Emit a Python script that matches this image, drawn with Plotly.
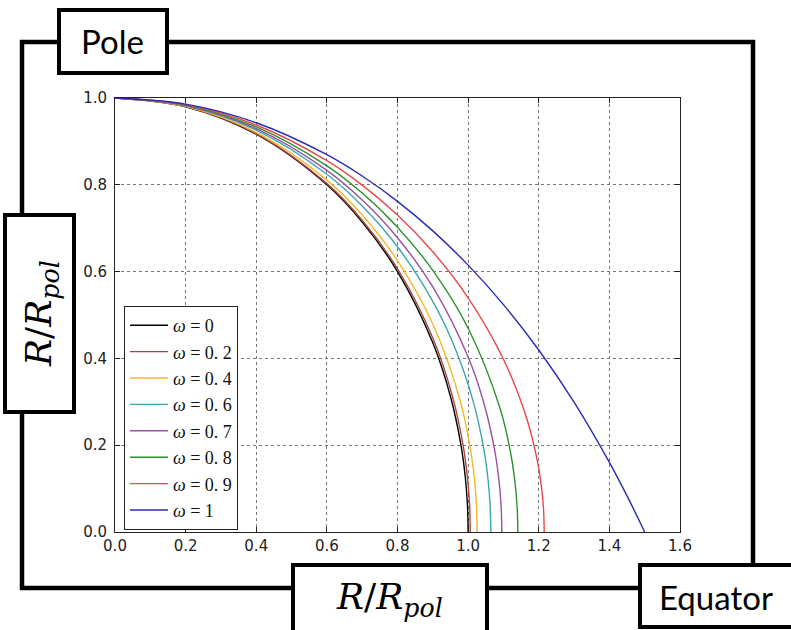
import plotly.graph_objects as go

# ---------------- data ----------------
labels = ["ω = 0", "ω = 0. 2", "ω = 0. 4", "ω = 0. 6",
          "ω = 0. 7", "ω = 0. 8", "ω = 0. 9", "ω = 1"]

x_w00 = [0.0, 0.2, 0.4, 0.6, 0.7, 0.8, 0.9, 0.95, 0.98, 0.992, 0.998, 1.0]
y_w00 = [1.0, 0.9798, 0.9165, 0.8, 0.7141, 0.6, 0.4359, 0.3122, 0.1990, 0.1262, 0.0632, 0.0]

x_w02 = [0.0, 0.2, 0.4, 0.6, 0.7, 0.8, 0.9, 0.956, 0.986, 0.998, 1.004, 1.006]
y_w02 = [1.0, 0.9800, 0.9176, 0.8027, 0.7182, 0.6063, 0.4468, 0.3114, 0.1986, 0.1261, 0.0636, 0.0]

x_w04 = [0.0, 0.2, 0.4, 0.6, 0.7, 0.8, 0.9, 0.9756, 1.0056, 1.0176, 1.0236, 1.0256]
y_w04 = [1.0, 0.9808, 0.9207, 0.8107, 0.7305, 0.6253, 0.4791, 0.3081, 0.1962, 0.1243, 0.0619, 0.0]

x_w06 = [0.0, 0.2, 0.4, 0.6, 0.7, 0.8, 0.9, 0.96, 1.0143, 1.0443, 1.0563, 1.0623, 1.0643]
y_w06 = [1.0, 0.9820, 0.9259, 0.8243, 0.7513, 0.6572, 0.5314, 0.4295, 0.3011, 0.1917, 0.1216, 0.0608, 0.0]

x_w07 = [0.0, 0.2, 0.4, 0.6, 0.7, 0.8, 0.9, 1.0, 1.0455, 1.0755, 1.0875, 1.0935, 1.0955]
y_w07 = [1.0, 0.9828, 0.9293, 0.8333, 0.7649, 0.6781, 0.5647, 0.4033, 0.2945, 0.1872, 0.1183, 0.0584, 0.0]

x_w08 = [0.0, 0.2, 0.4, 0.6, 0.7, 0.8, 0.9, 1.0, 1.0908, 1.1208, 1.1328, 1.1388, 1.1408]
y_w08 = [1.0, 0.9837, 0.9333, 0.8438, 0.7809, 0.7024, 0.6027, 0.4695, 0.2840, 0.1803, 0.1140, 0.0565, 0.0]

x_w09 = [0.0, 0.2, 0.4, 0.6, 0.7, 0.8, 0.9, 1.0, 1.1, 1.1655, 1.1955, 1.2075, 1.2135, 1.2155]
y_w09 = [1.0, 0.9847, 0.9378, 0.8558, 0.7993, 0.7303, 0.6457, 0.5397, 0.3982, 0.2628, 0.1663, 0.1052, 0.0526, 0.0]

x_w10 = [0.0, 0.2, 0.4, 0.6, 0.7, 0.8, 0.9, 1.0, 1.1, 1.2, 1.3, 1.4, 1.45, 1.5]
y_w10 = [1.0, 0.9859, 0.9430, 0.8694, 0.8202, 0.7619, 0.6938, 0.6149, 0.5240, 0.4194, 0.2992, 0.1606, 0.0833, 0.0]

colors = ["#000000", "#a8463f", "#f2b82e", "#3aa7b0",
          "#9b4ea8", "#2c922c", "#e84848", "#2a2ab5"]

x_ticks = [0.0, 0.2, 0.4, 0.6, 0.8, 1.0, 1.2, 1.4, 1.6]
y_ticks = [0.0, 0.2, 0.4, 0.6, 0.8, 1.0]

xs = [x_w00, x_w02, x_w04, x_w06, x_w07, x_w08, x_w09, x_w10]
ys = [y_w00, y_w02, y_w04, y_w06, y_w07, y_w08, y_w09, y_w10]

# ---------------- figure ----------------
W, H = 791, 630
L, R, T, B = 115, 680, 98, 532   # plot area edges in pixels


def px(x):
    return (x - L) / (R - L)


def py(y):
    return (B - y) / (B - T)


fig = go.Figure()
for i, (xv, yv) in enumerate(zip(xs, ys)):
    lab = labels[i].replace("ω", "<i>ω</i>")
    fig.add_trace(go.Scatter(
        x=xv, y=yv, mode="lines", name=lab,
        line=dict(color=colors[i], width=1.4, shape="spline", smoothing=1.0),
        legendgroup="g%d" % i,
    ))

axis_common = dict(
    showline=True, linecolor="#222", linewidth=1, mirror="ticks",
    ticks="inside", ticklen=5, tickcolor="#222", tickwidth=1,
    showgrid=True, gridcolor="#777", gridwidth=0.6, griddash="dot",
    zeroline=False, tickformat=".1f",
    tickfont=dict(family="DejaVu Sans", size=15, color="#222"),
)

fig.update_xaxes(range=[0, 1.6], tickvals=x_ticks, **axis_common)
fig.update_yaxes(range=[0, 1.0], tickvals=y_ticks, ticklabelstandoff=4, **axis_common)

shapes = []
# outer frame
shapes.append(dict(type="rect", xref="paper", yref="paper",
                   x0=px(22), x1=px(753), y0=py(42), y1=py(588),
                   line=dict(color="black", width=4.5), fillcolor="rgba(0,0,0,0)",
                   layer="above"))
boxes = [(59, 10, 167, 73), (5, 215, 74, 412), (293, 565, 487, 645), (640, 565, 805, 627)]
for (a, b, c, d) in boxes:
    shapes.append(dict(type="rect", xref="paper", yref="paper",
                       x0=px(a), x1=px(c), y0=py(d), y1=py(b),
                       line=dict(color="black", width=4), fillcolor="white",
                       layer="above"))

rr = "<i>R</i>/<i>R</i><sub><i>pol</i></sub>"
annotations = [
    dict(text="Pole", x=px(112), y=py(41), font=dict(family="Lato", size=33, color="black")),
    dict(text="Equator", x=px(716), y=py(597), font=dict(family="Lato", size=33, color="black")),
    dict(text=rr, x=px(389), y=py(599), font=dict(family="DejaVu Serif", size=36, color="black")),
    dict(text=rr, x=px(41), y=py(314), textangle=-90,
         font=dict(family="DejaVu Serif", size=36, color="black")),
]
for a in annotations:
    a.update(xref="paper", yref="paper", showarrow=False,
             xanchor="center", yanchor="middle")

fig.update_layout(
    width=W, height=H,
    margin=dict(l=L, r=W - R, t=T, b=H - B, pad=0),
    paper_bgcolor="white", plot_bgcolor="white",
    showlegend=True,
    legend=dict(x=px(124), y=py(306), xanchor="left", yanchor="top",
                bgcolor="white", bordercolor="#222", borderwidth=1,
                traceorder="grouped", tracegroupgap=0, itemwidth=38,
                font=dict(family="Liberation Serif", size=18, color="#111")),
    shapes=shapes, annotations=annotations,
)

fig.write_html("out.html")
